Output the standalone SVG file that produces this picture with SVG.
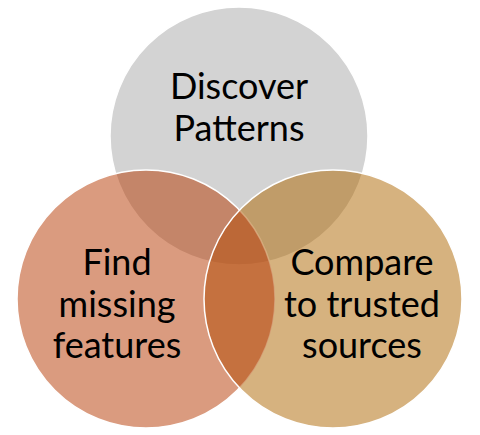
<svg xmlns="http://www.w3.org/2000/svg" width="480" height="435" viewBox="0 0 480 435">
<style>
.c{stroke:#fff;stroke-width:1.5;fill-opacity:0.5}
.t{font-family:Lato,"Open Sans",sans-serif;font-size:36px;fill:#000;text-anchor:middle}
</style>
<rect width="480" height="435" fill="#fff"/>
<g id="discover">
<circle class="c" cx="239" cy="136" r="129" fill="#A7A7A7"/>
</g>
<g id="missing">
<circle class="c" cx="146" cy="299" r="129" fill="#B53700"/>
</g>
<g id="compare">
<path d="M239.5 210.1 A129 129 0 0 1 239.5 387.9 A129 129 0 0 1 239.5 210.1 Z" fill="#E90580" fill-opacity="0.2"/>
<circle class="c" cx="333" cy="299" r="129" fill="#AD6500"/>
</g>
<g id="labels">
<text class="t" x="239" y="99">Discover</text>
<text class="t" x="239" y="141">Patterns</text>
<text class="t" x="117" y="275">Find</text>
<text class="t" x="117" y="317">missing</text>
<text class="t" x="117" y="358">features</text>
<text class="t" x="362" y="275">Compare</text>
<text class="t" x="362" y="317">to trusted</text>
<text class="t" x="362" y="358">sources</text>
</g>
<g id="connectors"></g>
</svg>
